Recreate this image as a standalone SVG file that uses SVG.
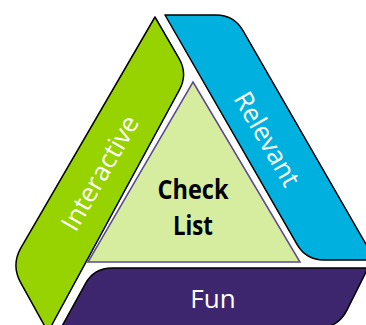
<svg xmlns="http://www.w3.org/2000/svg" width="366" height="325" viewBox="0 0 366 325">
  <style>
    .band { stroke: #000000; stroke-width: 1.5; stroke-linejoin: round; }
    .label { font-family: "Open Sans", "Liberation Sans", sans-serif; font-size: 26px; fill: #ffffff; text-anchor: middle; }
    .core { font-family: "Open Sans", "Liberation Sans", sans-serif; font-size: 26px; font-weight: bold; fill: #000000; text-anchor: middle; }
  </style>
  <rect width="366" height="325" fill="#ffffff"/>
  <g id="interactive">
    <path class="band" fill="#96d300" d="M155,17 L178.98,58.43 Q188,74 179.41,89.82 L48,332 L20.67,282.52 Q11,265 21.04,247.7 Z"/>
    <text class="label" transform="translate(100,173) rotate(-60)" x="0" y="9">Interactive</text>
  </g>
  <g id="relevant">
    <path class="band" fill="#00b1e0" d="M165,15 L216,15 Q234,15 242.98,30.6 L375,260 L324,260 Q306,260 297.02,244.4 Z"/>
    <text class="label" transform="translate(267,139) rotate(60)" x="0" y="9">Relevant</text>
  </g>
  <g id="fun">
    <path class="band" fill="#3e266e" d="M112,268 L368,268 L346.94,310.11 Q338,328 318,328 L61,328 L85.33,283.77 Q94,268 112,268 Z"/>
    <text class="label" x="213" y="308">Fun</text>
  </g>
  <g id="checklist">
    <path fill="#d6eda0" stroke="#5b4a8f" stroke-width="1.5" d="M193,82 L300,262 L88,262 Z"/>
    <text class="core" x="193" y="199" textLength="71" lengthAdjust="spacingAndGlyphs">Check</text>
    <text class="core" x="193" y="235" textLength="40" lengthAdjust="spacingAndGlyphs">List</text>
  </g>
  <g id="connectors"/>
</svg>
